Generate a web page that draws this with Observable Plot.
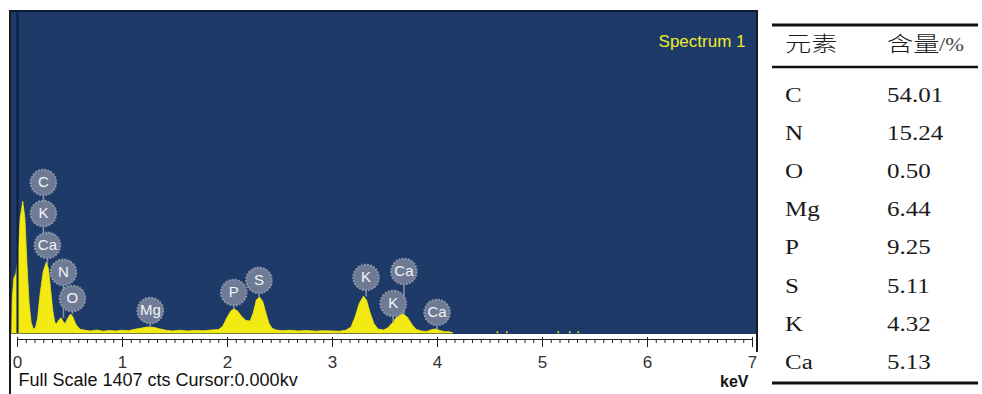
<!DOCTYPE html>
<html><head><meta charset="utf-8">
<script src="https://cdn.jsdelivr.net/npm/d3@7"></script>
<script src="https://cdn.jsdelivr.net/npm/@observablehq/plot@0.6"></script>
<style>
html,body{margin:0;padding:0;background:#fff;}
#wrap{position:relative;width:982px;height:394px;overflow:hidden;font-family:Arial,"Liberation Sans",sans-serif;}
#bg{position:absolute;left:10px;top:11px;width:747px;height:323px;background:#1e3a68;}
#lborder{position:absolute;left:9px;top:10px;width:1.5px;height:384px;background:#1a1a1a;}
#rborder{position:absolute;left:756px;top:10px;width:1.5px;height:342px;background:#1a1a1a;}
#tborder{position:absolute;left:9px;top:10px;width:748px;height:1.5px;background:#0d1c38;}
#chart{position:absolute;left:0;top:0;}
#table{position:absolute;left:760px;top:0;}
</style></head>
<body><div id="wrap"><div id="bg"></div><div id="tborder"></div><div id="chart"></div><div id="lborder"></div><div id="rborder"></div><div id="table"></div></div>
<script>
// ---- spectrum (keV, counts) ----
const energy = [-0.05,-0.045,-0.03,-0.01,0.01,0.03,0.055,0.075,0.095,0.115,0.135,0.155,0.175,0.195,0.22,0.25,0.28,0.30,0.32,0.34,0.36,0.38,0.40,0.42,0.44,0.46,0.48,0.51,0.53,0.56,0.60,0.65,0.70,0.76,0.82,0.88,0.94,1.00,1.06,1.12,1.18,1.24,1.30,1.36,1.42,1.48,1.55,1.62,1.70,1.78,1.85,1.92,1.96,2.00,2.04,2.07,2.10,2.14,2.18,2.22,2.25,2.28,2.31,2.34,2.37,2.40,2.43,2.47,2.53,2.60,2.68,2.76,2.84,2.92,3.00,3.07,3.13,3.18,3.22,3.26,3.30,3.33,3.36,3.40,3.44,3.49,3.53,3.57,3.61,3.65,3.68,3.72,3.76,3.80,3.85,3.90,3.94,3.98,4.02,4.07,4.12,4.15];
const counts = [0,150,240,260,330,500,575,500,300,130,45,18,22,60,170,270,310,280,190,100,45,42,58,66,50,40,62,83,72,38,16,12,9,13,8,11,9,12,10,16,21,26,25,18,12,9,12,9,11,10,13,15,30,68,98,105,96,72,55,52,88,145,157,138,88,42,20,13,10,12,9,11,8,10,9,8,12,25,70,130,161,142,92,40,17,13,22,42,66,80,83,68,38,16,9,7,13,18,12,6,5,0];
const strayKeV = [4.57,4.66,5.15,5.26,5.34];
const strayCounts = [5,5,5,5,5];

// ---- peak labels ----
const labelText   = ["C","K","Ca","N","O","Mg","P","S","K","Ca","K","Ca"];
const labelKeV    = [0.247,0.247,0.285,0.438,0.523,1.265,2.06,2.30,3.32,3.68,3.578,3.996];
const labelCounts = [660,524,385,267,153,100,179,232,245,271,131,92];
const stemCounts  = [524,385,300,66,83,25,105,157,160,83,45,18];

// ---- axis / texts ----
const tickKeV = [0,1,2,3,4,5,6,7];
const titleText = ["Spectrum 1"];
const footerText = ["Full Scale 1407 cts Cursor:0.000kv"];
const unitText = ["keV"];
const fullScale = 1407;

// ---- table ----
const tableHeader = ["元素","含量"];
const tableUnit = "/%";
const tableElements = ["C","N","O","Mg","P","S","K","Ca"];
const tableValues = ["54.01","15.24","0.50","6.44","9.25","5.11","4.32","5.13"];

const YELLOW = "#f2ea10";
const spectrum = energy.map((e,i)=>({e, c: counts[i]}));
const strays = strayKeV.map((e,i)=>({e, c: strayCounts[i]}));
const labels = labelText.map((t,i)=>({t, x: labelKeV[i], y: labelCounts[i], y0: stemCounts[i]}));
const minorTicks = d3.range(0, 7.0001, 1/12);

const chart = Plot.plot({
  width: 760, height: 394,
  marginLeft: 17, marginRight: 8, marginTop: 11, marginBottom: 61,
  x: {domain: [0, 7], label: null},
  y: {domain: [0, fullScale], axis: null},
  style: {background: "transparent", overflow: "visible", fontFamily: "Arial, 'Liberation Sans', sans-serif"},
  marks: [
    Plot.areaY(spectrum, {x: "e", y: "c", fill: YELLOW, stroke: YELLOW, strokeWidth: 0.8}),
    Plot.dot(strays, {x: "e", y: "c", r: 1, fill: YELLOW}),
    Plot.ruleX([0], {y1: 0, y2: fullScale, stroke: "#0c1f40", strokeWidth: 2}),
    Plot.ruleX(labels, {x: "x", y1: "y0", y2: "y", stroke: "#8a94aa", strokeWidth: 1.5}),
    Plot.dot(labels, {x: "x", y: "y", r: 12.8, fill: "#6f7b94", stroke: "#8c96ab", strokeWidth: 2, strokeDasharray: "2,1.2"}),
    Plot.text(labels, {x: "x", y: "y", text: "t", fill: "#f2f4f8", fontSize: 15}),
    Plot.ruleY([0], {dy: 6, stroke: "#222", strokeWidth: 1.2}),
    Plot.axisX(minorTicks, {tickSize: 4, dy: 6, tickFormat: () => "", stroke: "#222", label: null}),
    Plot.axisX(tickKeV, {tickSize: 10, dy: 4, tickPadding: 8, fontSize: 17, fill: "#333", stroke: "#222", label: null}),
    Plot.text(titleText, {frameAnchor: "top-right", text: d => d, dx: -7, dy: 23, fill: "#efe92c", fontSize: 17, textAnchor: "end"}),
    Plot.text(footerText, {frameAnchor: "bottom-left", text: d => d, dx: 1, dy: 52.5, fill: "#111", fontSize: 18, textAnchor: "start"}),
    Plot.text(unitText, {frameAnchor: "bottom-right", text: d => d, dx: -4, dy: 53.5, fill: "#111", fontSize: 16, fontWeight: "bold", textAnchor: "end"})
  ]
});
document.getElementById("chart").appendChild(chart);

// ---- table drawing (text widened horizontally like the reference) ----
const SX = 1.25;
const serif = "'Liberation Serif', 'Times New Roman', serif";
const cjk = "'Noto Sans CJK SC', sans-serif";
const t = d3.select("#table").append("svg").attr("width", 222).attr("height", 394);
[[25,3],[67,2.5],[383,3]].forEach(([y,w]) => {
  t.append("line").attr("x1", 12).attr("x2", 218).attr("y1", y).attr("y2", y)
   .attr("stroke", "#111").attr("stroke-width", w);
});
const addText = (x, y, s, family, size, opts = {}) => {
  const el = t.append("text").attr("transform", `translate(${x},${y}) scale(${SX},1)`)
    .attr("font-family", family).attr("font-size", size).attr("fill", opts.fill || "#1a1a1a").text(s);
  if (opts.weight) el.attr("font-weight", opts.weight);
  return el;
};
addText(25, 51, tableHeader[0], cjk, 21, {weight: 300});
addText(127, 51, tableHeader[1], cjk, 21, {weight: 300});
addText(179, 51, tableUnit, serif, 18, {fill: "#444"});
tableElements.forEach((el, i) => {
  const yb = 94.5 + 38.2 * i + 7;
  addText(25, yb, el, serif, 20);
  addText(127, yb, tableValues[i], serif, 20);
});
</script>
</body></html>
